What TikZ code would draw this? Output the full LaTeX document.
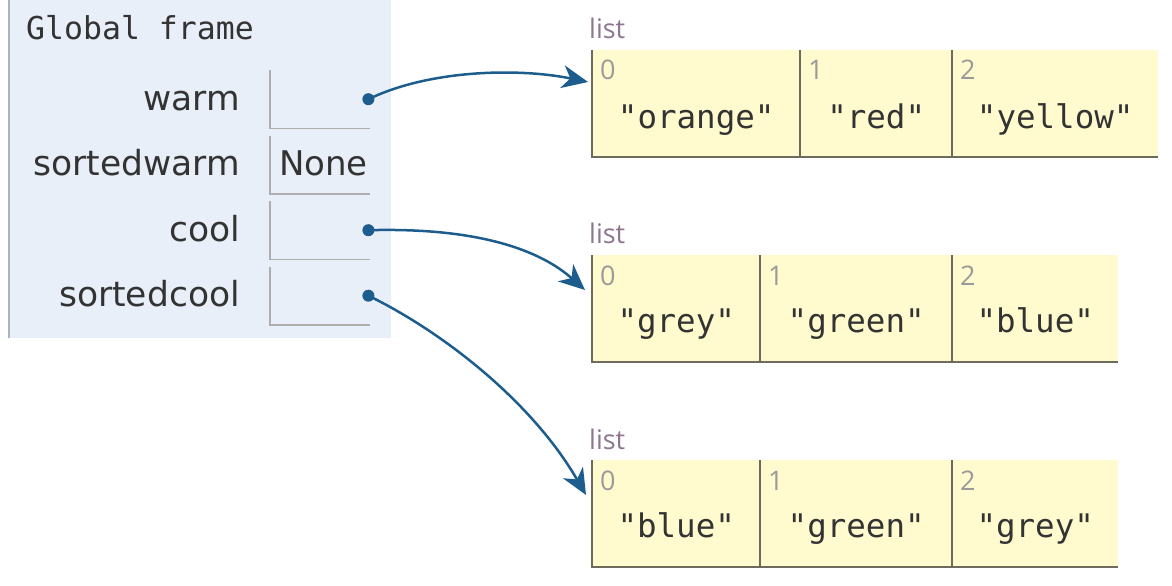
\documentclass[tikz,border=0pt]{standalone}
\usepackage{fontspec}
\usetikzlibrary{arrows.meta}
\newfontfamily\monof{DejaVu Sans Mono}
\newfontfamily\varf{DejaVu Sans}
\newfontfamily\lblf{Open Sans}
\definecolor{framebg}{HTML}{E8EFF8}
\definecolor{frameedge}{HTML}{A9B2BE}
\definecolor{listbg}{HTML}{FFFBCF}
\definecolor{celledge}{HTML}{6E6A5C}
\definecolor{boxedge}{HTML}{AEAEAE}
\definecolor{txt}{HTML}{333333}
\definecolor{idxc}{HTML}{9A9A9A}
\definecolor{lstc}{HTML}{8E7590}
\definecolor{arrowc}{HTML}{1C5D8E}
\begin{document}
\begin{tikzpicture}[x=1pt,y=-1pt,
  cell/.style={fill=listbg, inner sep=0pt, minimum height=107pt, anchor=north west},
  vbox/.style={inner sep=0pt, minimum width=100pt, minimum height=58pt, anchor=north west},
  varname/.style={anchor=base east, font=\varf\fontsize{34.5}{40}\selectfont, text=txt, inner sep=0pt},
  valtxt/.style={anchor=base, font=\monof\fontsize{32.5}{38}\selectfont, text=txt, inner sep=0pt},
  idx/.style={anchor=base west, font=\lblf\fontsize{27}{32}\selectfont, text=idxc, inner sep=0pt},
  listlbl/.style={anchor=base west, font=\lblf\fontsize{27}{32}\selectfont, text=lstc, inner sep=0pt},
  ptr/.style={draw=arrowc, line width=2.5pt, -{Stealth[length=26pt,width=23pt,inset=8pt]}},
  cellline/.style={draw=celledge, line width=2pt},
  boxline/.style={draw=boxedge, line width=1.6pt},
  dotst/.style={fill=arrowc}]
\useasboundingbox (0,0) rectangle (1172,586);

% ---------- Global frame ----------
\node[fill=framebg, anchor=north west, minimum width=382pt, minimum height=338pt, inner sep=0pt] (frame) at (9,0) {};
\draw[draw=frameedge, line width=2pt] (frame.north west) -- (frame.south west);
\node[anchor=base west, font=\monof\fontsize{31.5}{36}\selectfont, text=txt, inner sep=0pt] (gf) at (26,40) {Global frame};

\node[vbox] (vb1) at (270,70) {};
\node[vbox] (vb2) at (270,135.5) {};
\node[vbox] (vb3) at (270,201) {};
\node[vbox] (vb4) at (270,266.5) {};
\foreach \b in {vb1,vb2,vb3,vb4}
  \draw[boxline] (\b.north west) -- (\b.south west) -- (\b.south east);

\node[varname] (n1) at (240,110) {warm};
\node[varname] (n2) at (240,175.5) {sortedwarm};
\node[varname] (n3) at (240,241) {cool};
\node[varname] (n4) at (240,306.5) {sortedcool};
\node[anchor=base west, font=\varf\fontsize{34}{40}\selectfont, text=txt, inner sep=0pt] (none) at ([xshift=9pt,yshift=-40pt]vb2.north west) {None};

\coordinate (d1) at ([xshift=-2pt]vb1.east);
\coordinate (d3) at ([xshift=-2pt]vb3.east);
\coordinate (d4) at ([xshift=-2pt]vb4.east);
\fill[dotst] (d1) circle (6);
\fill[dotst] (d3) circle (6);
\fill[dotst] (d4) circle (6);

% ---------- List 1 ----------
\node[listlbl] (lab1) at (589,38) {list};
\node[cell, minimum width=208pt] (a0) at (592,50) {};
\node[cell, minimum width=152pt] (a1) at (800,50) {};
\node[cell, minimum width=206pt] (a2) at (952,50) {};
\foreach \c in {a0,a1,a2}
  \draw[cellline] (\c.north west) -- (\c.south west) -- (\c.south east);
\node[idx] (ai0) at ([xshift=8pt,yshift=-30pt]a0.north west) {0};
\node[idx] (ai1) at ([xshift=8pt,yshift=-30pt]a1.north west) {1};
\node[idx] (ai2) at ([xshift=8pt,yshift=-30pt]a2.north west) {2};
\node[valtxt] (av0) at ([yshift=-78pt]a0.north) {"orange"};
\node[valtxt] (av1) at ([yshift=-78pt]a1.north) {"red"};
\node[valtxt] (av2) at ([yshift=-78pt]a2.north) {"yellow"};

% ---------- List 2 ----------
\node[listlbl] (lab2) at (589,243) {list};
\node[cell, minimum width=168pt] (b0) at (592,255) {};
\node[cell, minimum width=192pt] (b1) at (760,255) {};
\node[cell, minimum width=166pt] (b2) at (952,255) {};
\foreach \c in {b0,b1,b2}
  \draw[cellline] (\c.north west) -- (\c.south west) -- (\c.south east);
\node[idx] (bi0) at ([xshift=8pt,yshift=-30pt]b0.north west) {0};
\node[idx] (bi1) at ([xshift=8pt,yshift=-30pt]b1.north west) {1};
\node[idx] (bi2) at ([xshift=8pt,yshift=-30pt]b2.north west) {2};
\node[valtxt] (bv0) at ([yshift=-77pt]b0.north) {"grey"};
\node[valtxt] (bv1) at ([yshift=-77pt]b1.north) {"green"};
\node[valtxt] (bv2) at ([yshift=-77pt]b2.north) {"blue"};

% ---------- List 3 ----------
\node[listlbl] (lab3) at (589,449) {list};
\node[cell, minimum width=168pt] (c0) at (592,460) {};
\node[cell, minimum width=192pt] (c1) at (760,460) {};
\node[cell, minimum width=166pt] (c2) at (952,460) {};
\foreach \c in {c0,c1,c2}
  \draw[cellline] (\c.north west) -- (\c.south west) -- (\c.south east);
\node[idx] (ci0) at ([xshift=8pt,yshift=-30pt]c0.north west) {0};
\node[idx] (ci1) at ([xshift=8pt,yshift=-30pt]c1.north west) {1};
\node[idx] (ci2) at ([xshift=8pt,yshift=-30pt]c2.north west) {2};
\node[valtxt] (cv0) at ([yshift=-77pt]c0.north) {"blue"};
\node[valtxt] (cv1) at ([yshift=-77pt]c1.north) {"green"};
\node[valtxt] (cv2) at ([yshift=-77pt]c2.north) {"grey"};

% ---------- Pointers ----------
\coordinate (e1) at ([xshift=-4pt,yshift=-32pt]a0.north west);
\coordinate (e2) at ([xshift=-7pt,yshift=-35pt]b0.north west);
\coordinate (e3) at ([xshift=-6pt,yshift=-35pt]c0.north west);
\draw[ptr] (d1) .. controls +(62,-30) and +(-68,-14) .. (e1);
\draw[ptr] (d3) .. controls +(112,-3) and +(-44,-39) .. (e2);
\draw[ptr] (d4) .. controls +(72,35) and +(-55,-95) .. (e3);
\end{tikzpicture}
\end{document}
